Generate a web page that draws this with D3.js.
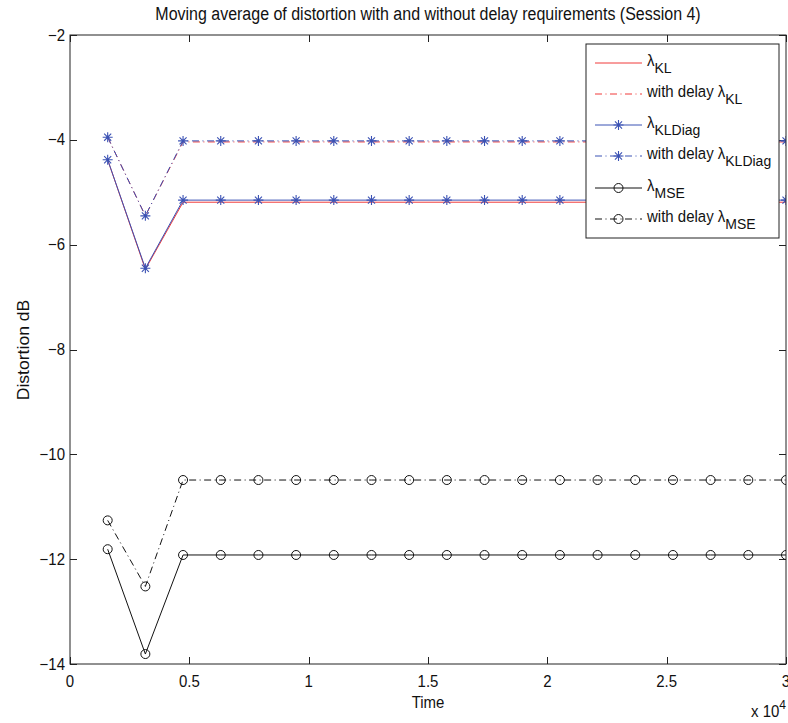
<!DOCTYPE html>
<html>
<head>
<meta charset="utf-8">
<script src="https://cdnjs.cloudflare.com/ajax/libs/d3/7.8.5/d3.min.js"></script>
<style>
  html, body { margin: 0; padding: 0; background: #fff; }
  svg { display: block; font-family: "Liberation Sans", Arial, Helvetica, sans-serif; }
</style>
</head>
<body>
<svg id="chart" width="788" height="723"></svg>
<script>
// Sample times (s)
const times = [1579, 3158, 4737, 6316, 7895, 9474, 11053, 12632, 14211, 15789,
               17368, 18947, 20526, 22105, 23684, 25263, 26842, 28421, 30000];

// Moving-average distortion in dB for each weighting
const kl          = [-4.38, -6.47, -5.19, -5.19, -5.19, -5.19, -5.19, -5.19, -5.19, -5.19,
                     -5.19, -5.19, -5.19, -5.19, -5.19, -5.19, -5.19, -5.19, -5.19];
const klDelay     = [-3.95, -5.45, -4.04, -4.04, -4.04, -4.04, -4.04, -4.04, -4.04, -4.04,
                     -4.04, -4.04, -4.04, -4.04, -4.04, -4.04, -4.04, -4.04, -4.04];
const klDiag      = [-4.38, -6.45, -5.15, -5.15, -5.15, -5.15, -5.15, -5.15, -5.15, -5.15,
                     -5.15, -5.15, -5.15, -5.15, -5.15, -5.15, -5.15, -5.15, -5.15];
const klDiagDelay = [-3.95, -5.45, -4.02, -4.02, -4.02, -4.02, -4.02, -4.02, -4.02, -4.02,
                     -4.02, -4.02, -4.02, -4.02, -4.02, -4.02, -4.02, -4.02, -4.02];
const mse         = [-11.81, -13.81, -11.92, -11.92, -11.92, -11.92, -11.92, -11.92, -11.92, -11.92,
                     -11.92, -11.92, -11.92, -11.92, -11.92, -11.92, -11.92, -11.92, -11.92];
const mseDelay    = [-11.26, -12.52, -10.49, -10.49, -10.49, -10.49, -10.49, -10.49, -10.49, -10.49,
                     -10.49, -10.49, -10.49, -10.49, -10.49, -10.49, -10.49, -10.49, -10.49];

// Axis ticks
const xTicks = [0, 5000, 10000, 15000, 20000, 25000, 30000];
const xTickLabels = ["0", "0.5", "1", "1.5", "2", "2.5", "3"];
const yTicks = [-14, -12, -10, -8, -6, -4, -2];

const titleText = "Moving average of distortion with and without delay requirements (Session 4)";

const RED = "#f03a3a", BLUE = "#3b52b4", BLACK = "#111";
const DASHDOT = "7,3.5,1,3.5";
const STRETCH = 1.1;   // text is drawn slightly tall

const series = [
  { name: "λ", sub: "KL",      pre: "",            values: kl,          color: RED,   dash: null,    marker: "none" },
  { name: "λ", sub: "KL",      pre: "with delay ", values: klDelay,     color: RED,   dash: DASHDOT, marker: "none" },
  { name: "λ", sub: "KLDiag",  pre: "",            values: klDiag,      color: BLUE,  dash: null,    marker: "star" },
  { name: "λ", sub: "KLDiag",  pre: "with delay ", values: klDiagDelay, color: BLUE,  dash: DASHDOT, marker: "star" },
  { name: "λ", sub: "MSE",     pre: "",            values: mse,         color: BLACK, dash: null,    marker: "circle" },
  { name: "λ", sub: "MSE",     pre: "with delay ", values: mseDelay,    color: BLACK, dash: DASHDOT, marker: "circle" }
];

const svg = d3.select("#chart");
const L = 70, R = 786, T = 35, B = 664;

const x = d3.scaleLinear().domain([0, 30000]).range([L, R]);
const y = d3.scaleLinear().domain([-14, -2]).range([B, T]);

svg.append("defs").append("clipPath").attr("id", "plotClip")
  .append("rect").attr("x", L).attr("y", T).attr("width", R - L).attr("height", B - T);

// Text placed at (px, py) with a slight vertical stretch
function label(parent, px, py, str, size, anchor) {
  return parent.append("text")
    .attr("transform", `translate(${px},${py}) scale(1,${STRETCH})`)
    .attr("text-anchor", anchor || "start")
    .attr("font-size", size).attr("fill", "#111").text(str);
}

// Ticks pointing inward on all four sides
const tickLen = 7;
const axes = svg.append("g").attr("stroke", "#222").attr("stroke-width", 1);
xTicks.forEach(v => {
  const px = Math.round(x(v)) + 0.5;
  axes.append("line").attr("x1", px).attr("x2", px).attr("y1", B).attr("y2", B - tickLen);
  axes.append("line").attr("x1", px).attr("x2", px).attr("y1", T).attr("y2", T + tickLen);
});
yTicks.forEach(v => {
  const py = Math.round(y(v)) + 0.5;
  axes.append("line").attr("x1", L).attr("x2", L + tickLen).attr("y1", py).attr("y2", py);
  axes.append("line").attr("x1", R).attr("x2", R - tickLen).attr("y1", py).attr("y2", py);
});

// Tick labels
const labels = svg.append("g");
xTicks.forEach((v, i) => label(labels, x(v), 687, xTickLabels[i], 15, "middle"));
yTicks.forEach(v => label(labels, 65, y(v) + 5.5, String(v).replace("-", "\u2212"), 15, "end"));

// Plot lines and markers
const plot = svg.append("g").attr("clip-path", "url(#plotClip)");
const line = d3.line().x((d, i) => x(times[i])).y(d => y(d));

const starPath = r => {
  const d = r * Math.SQRT1_2;
  return `M${-r},0L${r},0M0,${-r}L0,${r}M${-d},${-d}L${d},${d}M${-d},${d}L${d},${-d}`;
};

function drawMarker(g, type, color) {
  if (type === "star") {
    g.append("path").attr("d", starPath(5)).attr("stroke", color).attr("stroke-width", 1.1).attr("fill", "none");
  } else if (type === "circle") {
    g.append("circle").attr("r", 4.5).attr("stroke", color).attr("stroke-width", 1).attr("fill", "none");
  }
}

series.forEach(s => {
  plot.append("path").datum(s.values)
    .attr("d", line)
    .attr("fill", "none")
    .attr("stroke", s.color)
    .attr("stroke-width", 1)
    .attr("stroke-dasharray", s.dash);
  if (s.marker !== "none") {
    s.values.forEach((v, i) => {
      const g = plot.append("g").attr("transform", `translate(${x(times[i])},${y(v)})`);
      drawMarker(g, s.marker, s.color);
    });
  }
});

// Axes box
svg.append("rect").attr("x", L).attr("y", T).attr("width", R - L).attr("height", B - T)
  .attr("fill", "none").attr("stroke", "#222").attr("stroke-width", 1);

// Title and axis labels
label(svg, (L + R) / 2, 20, titleText, 16, "middle");
label(svg, (L + R) / 2, 708, "Time", 15, "middle");
svg.append("text").attr("transform", `translate(29,350) rotate(-90) scale(${STRETCH},1)`)
  .attr("text-anchor", "middle").attr("font-size", 16).attr("fill", "#111").text("Distortion dB");

const expo = label(svg, 751, 717, "", 15, "start");
expo.append("tspan").text("x 10");
expo.append("tspan").attr("dy", -7).attr("font-size", 12).text("4");

// Legend
const lg = svg.append("g");
lg.append("rect").attr("x", 586).attr("y", 44).attr("width", 193).attr("height", 194)
  .attr("fill", "#fff").attr("stroke", "#222").attr("stroke-width", 1);
const rowY = [63, 94, 125, 156, 188, 219];
series.forEach((s, i) => {
  const ry = rowY[i];
  lg.append("line").attr("x1", 595).attr("x2", 642).attr("y1", ry).attr("y2", ry)
    .attr("stroke", s.color).attr("stroke-width", 1).attr("stroke-dasharray", s.dash);
  if (s.marker !== "none") {
    const g = lg.append("g").attr("transform", `translate(618.5,${ry})`);
    drawMarker(g, s.marker, s.color);
  }
  const t = label(lg, 647, ry + 3, "", 15, "start");
  t.append("tspan").text(s.pre + s.name);
  t.append("tspan").attr("dy", 6.5).attr("font-size", 14).text(s.sub);
});
</script>
</body>
</html>
